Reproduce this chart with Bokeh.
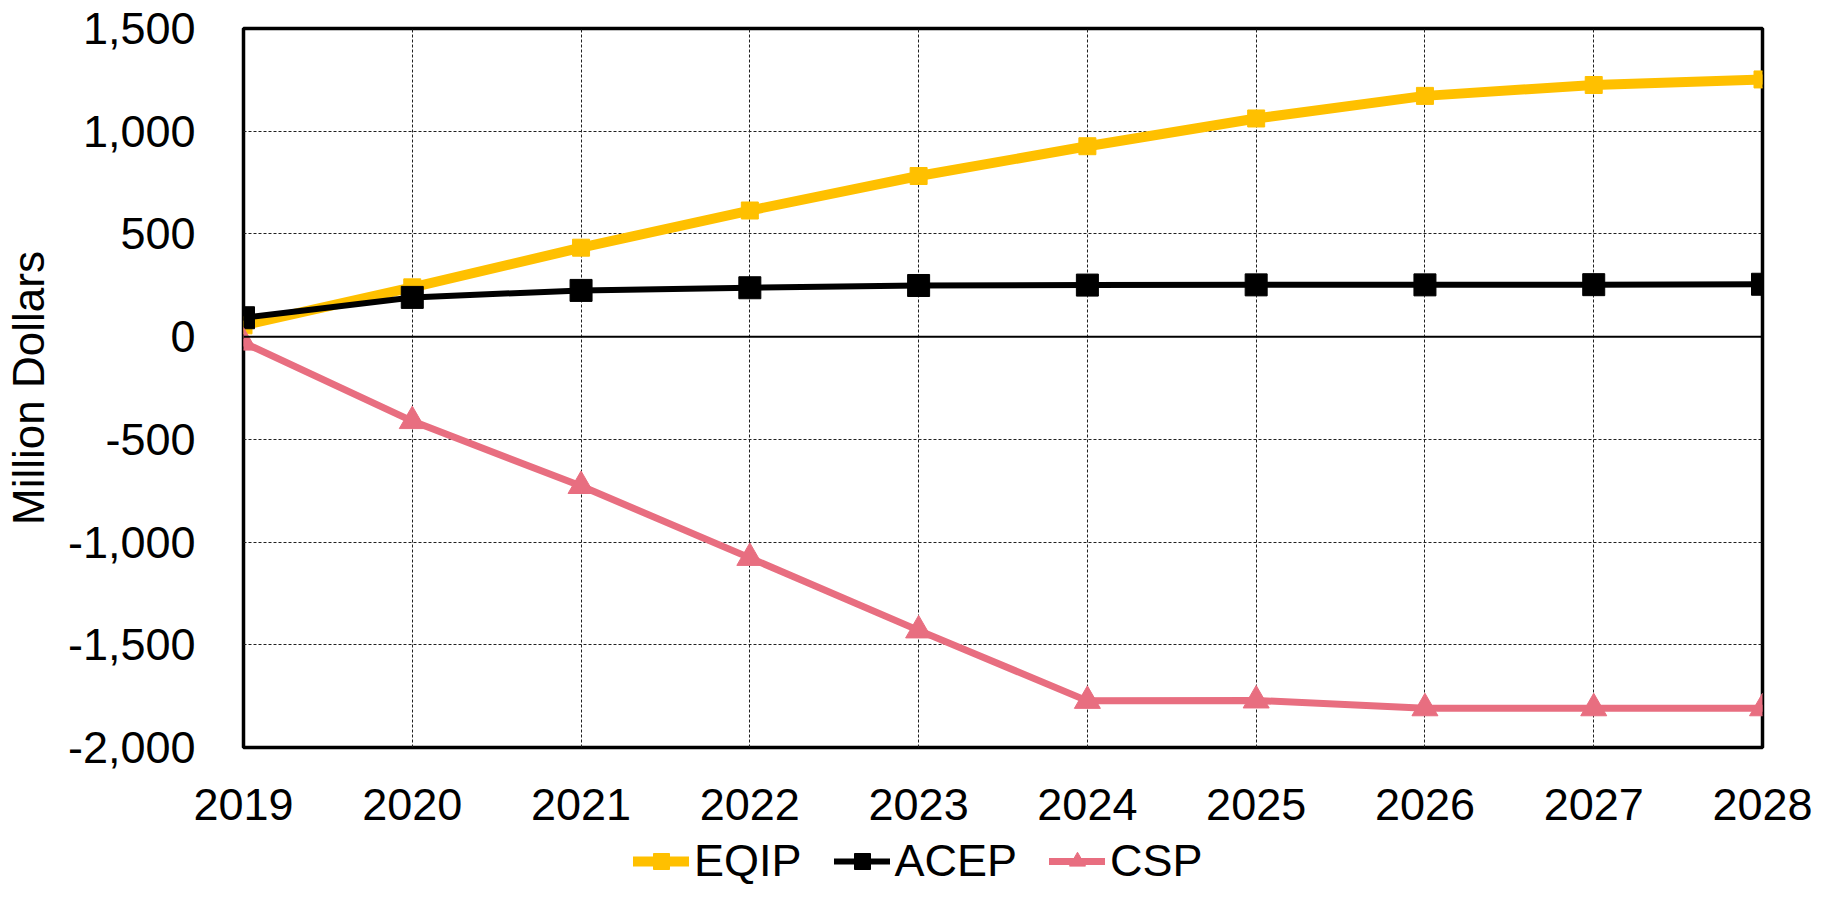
from bokeh.plotting import figure
from bokeh.layouts import column
from bokeh.models import Range1d, FixedTicker, NumeralTickFormatter, Span, Legend, LegendItem
from bokeh.embed import file_html
from bokeh.resources import INLINE

years = [2019, 2020, 2021, 2022, 2023, 2024, 2025, 2026, 2027, 2028]
eqip = [55, 240, 433, 614, 782, 927, 1062, 1172, 1225, 1252]
acep = [92, 191, 225, 238, 249, 251, 252, 252, 253, 255]
csp = [-29, -411, -727, -1077, -1430, -1773, -1771, -1809, -1809, -1809]
y_ticks = [-2000, -1500, -1000, -500, 0, 500, 1000, 1500]
series_names = ["EQIP", "ACEP", "CSP"]

FONT = "Liberation Sans"
C_EQIP = "#FFC000"
C_ACEP = "#000000"
C_CSP = "#E86E80"

p = figure(width=1827, height=835, output_backend="svg", toolbar_location=None,
           x_range=Range1d(2019, 2028), y_range=Range1d(-2000, 1500),
           min_border_left=232, min_border_right=65, min_border_top=28, min_border_bottom=88)

p.outline_line_color = "black"
p.outline_line_width = 3.5

for ax in (p.xaxis[0], p.yaxis[0]):
    ax.axis_line_color = None
    ax.major_tick_line_color = None
    ax.minor_tick_line_color = None
    ax.major_label_text_font = FONT
    ax.major_label_text_font_size = "45px"
    ax.major_label_text_color = "black"

p.xaxis.ticker = FixedTicker(ticks=years)
p.xaxis.major_label_standoff = 35
p.yaxis.ticker = FixedTicker(ticks=y_ticks)
p.yaxis.formatter = NumeralTickFormatter(format="0,0")
p.yaxis.major_label_standoff = 42
p.yaxis.axis_label = "Million Dollars"
p.yaxis.axis_label_text_font = FONT
p.yaxis.axis_label_text_font_size = "44px"
p.yaxis.axis_label_text_font_style = "normal"
p.yaxis.axis_label_text_color = "black"
p.yaxis.axis_label_standoff = 12

for g in (p.xgrid[0], p.ygrid[0]):
    g.grid_line_color = "#202020"
    g.grid_line_width = 1
    g.grid_line_dash = "3 2"
p.xgrid.ticker = FixedTicker(ticks=years)
p.ygrid.ticker = FixedTicker(ticks=y_ticks)

p.add_layout(Span(location=0, dimension="width", line_color="black", line_width=2))

STY = {
    "EQIP": dict(lw=10, marker="square", ms=17, color=C_EQIP),
    "ACEP": dict(lw=6, marker="square", ms=22, color=C_ACEP),
    "CSP": dict(lw=7, marker="triangle", ms=26, color=C_CSP),
}

for name, vals in zip(series_names, [eqip, acep, csp]):
    s = STY[name]
    p.line(years, vals, line_color=s["color"], line_width=s["lw"], line_cap="round", line_join="round")
    p.scatter(years, vals, marker=s["marker"], size=s["ms"], fill_color=s["color"], line_color=s["color"])

# legend strip (separate figure so it is not clipped by the chart frame)
lg = figure(width=1827, height=52, output_backend="svg", toolbar_location=None,
            x_range=Range1d(0, 1), y_range=Range1d(0, 1),
            x_axis_location=None, y_axis_location=None, min_border=0)
lg.outline_line_color = None
lg.grid.visible = False
items = []
for name in series_names:
    s = STY[name]
    r1 = lg.line([-5, -4], [-5, -4], line_color=s["color"], line_width=s["lw"], line_cap="round")
    r2 = lg.scatter([-5], [-5], marker=s["marker"], size=s["ms"], fill_color=s["color"], line_color=s["color"])
    items.append(LegendItem(label=name, renderers=[r1, r2]))

legend = Legend(items=items, orientation="horizontal", location=(390, 0),
                label_text_font=FONT, label_text_font_size="45px", label_text_color="black",
                glyph_width=56, glyph_height=40, label_height=40, label_standoff=5,
                spacing=32, padding=0, margin=0,
                background_fill_alpha=0, border_line_color=None)
lg.add_layout(legend, "center")

layout = column(p, lg, spacing=0)
open("out.html", "w").write(file_html(layout, INLINE))
